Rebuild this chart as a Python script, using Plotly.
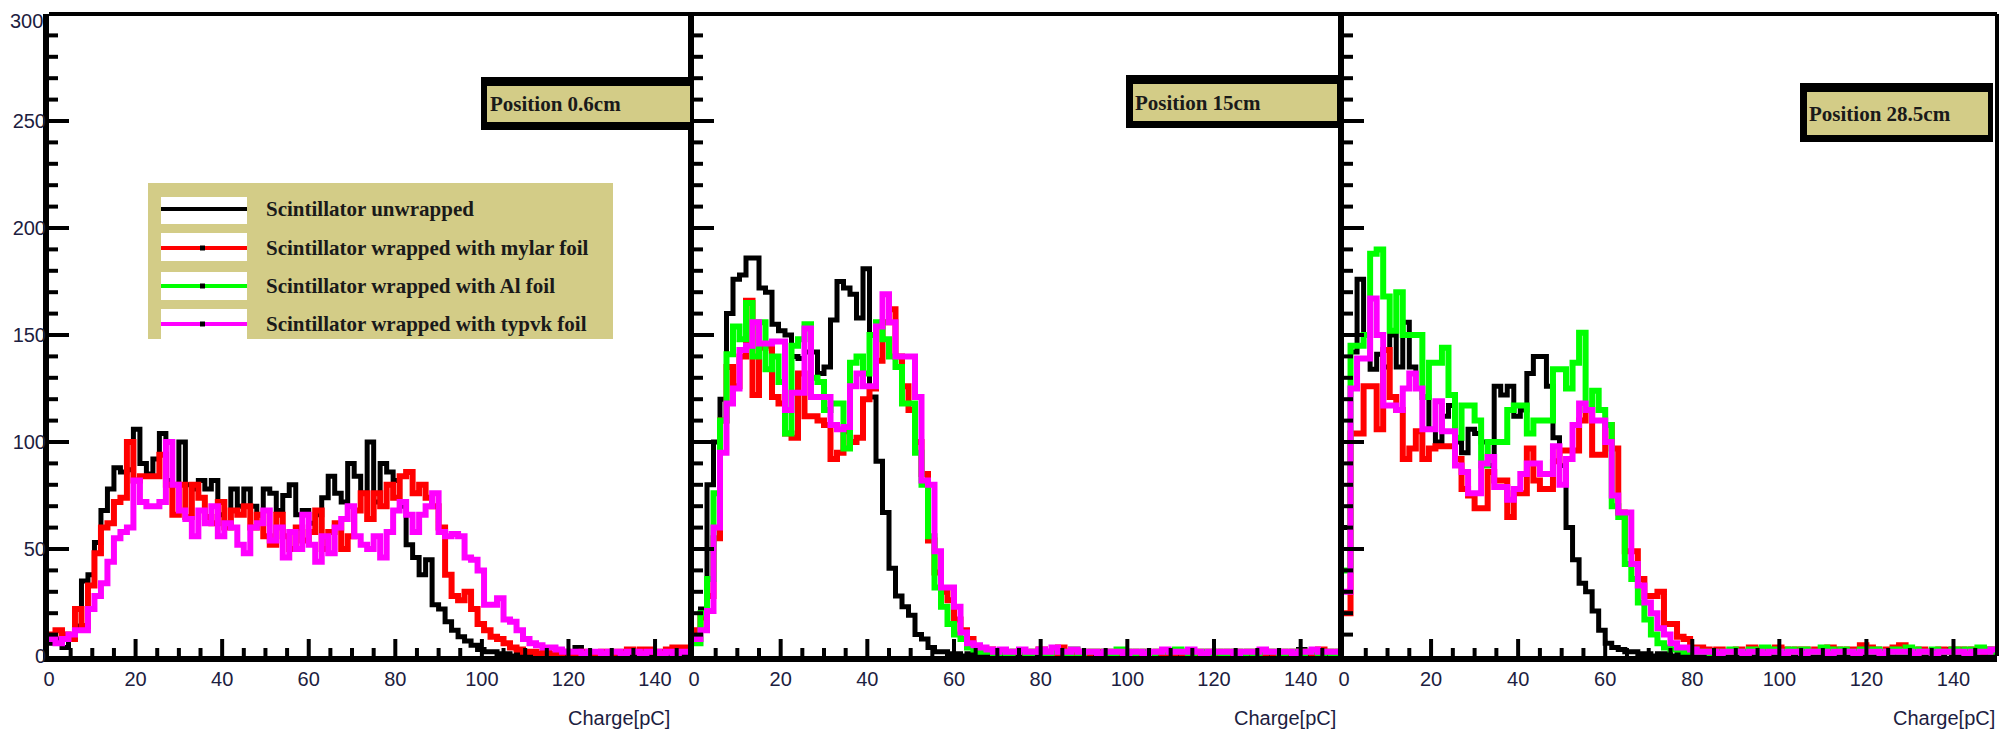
import numpy as np
import plotly.graph_objects as go

# ---------------- data (histogram bin contents, bin width 1.5 pC, 100 bins 0-150 pC) ----------------
BIN_WIDTH = 1.5
N_BINS = 100

series_names = [
    "Scintillator unwrapped",
    "Scintillator wrapped with mylar foil",
    "Scintillator wrapped with Al foil",
    "Scintillator wrapped with typvk foil",
]
series_colors = ["#000000", "#ff0000", "#00ff00", "#ff00ff"]
panel_titles = ["Position 0.6cm", "Position 15cm", "Position 28.5cm"]
x_tick_labels = [0, 20, 40, 60, 80, 100, 120, 140]
y_tick_labels = [0, 50, 100, 150, 200, 250, 300]
X_MINOR_STEP = 5
Y_MINOR_STEP = 10

# Panel 1 : position 0.6 cm
p1_unwrapped = [6, 8, 4, 8, 14, 35, 38, 53, 68, 78,
                88, 86, 87, 106, 90, 85, 92, 104, 82, 80,
                100, 80, 78, 82, 78, 82, 66, 62, 78, 70,
                78, 70, 66, 78, 76, 68, 75, 80, 66, 68,
                62, 66, 74, 84, 76, 72, 90, 84, 76, 100,
                72, 90, 86, 82, 70, 52, 46, 38, 45, 24,
                22, 16, 12, 9, 7, 5, 3, 2, 2, 1,
                1, 0, 1, 0, 1, 1, 0, 0, 1, 0,
                1, 4, 1, 0, 1, 0, 0, 1, 0, 0,
                1, 0, 0, 1, 1, 0, 1, 0, 1, 1]
p1_mylar = [10, 12, 10, 8, 22, 14, 33, 48, 60, 62,
            72, 74, 100, 82, 84, 84, 84, 94, 80, 66,
            80, 65, 80, 74, 65, 62, 72, 60, 68, 66,
            70, 60, 66, 56, 52, 66, 56, 50, 60, 54,
            58, 68, 50, 58, 62, 50, 56, 68, 76, 64,
            76, 70, 80, 74, 84, 86, 76, 80, 74, 70,
            60, 38, 28, 26, 30, 22, 15, 12, 9, 8,
            6, 4, 3, 2, 2, 1, 2, 1, 1, 2,
            1, 1, 2, 1, 1, 2, 1, 2, 2, 3,
            2, 3, 3, 2, 2, 3, 4, 4, 3, 6]
p1_typvk = [8, 6, 8, 10, 12, 12, 22, 28, 34, 44,
            55, 58, 60, 82, 72, 70, 70, 72, 100, 80,
            68, 64, 56, 68, 62, 70, 56, 62, 60, 52,
            48, 60, 62, 68, 54, 60, 46, 58, 50, 66,
            52, 44, 56, 48, 60, 64, 70, 56, 52, 50,
            56, 46, 58, 68, 72, 66, 58, 66, 70, 76,
            58, 56, 57, 56, 46, 45, 40, 24, 24, 27,
            17, 16, 12, 8, 6, 5, 4, 4, 3, 2,
            2, 2, 1, 2, 2, 1, 2, 2, 1, 2,
            2, 1, 2, 2, 1, 2, 1, 2, 2, 2]

# Panel 2 : position 15 cm
p2_unwrapped = [8, 22, 80, 100, 120, 160, 176, 178, 186, 186,
                172, 170, 155, 152, 150, 140, 139, 142, 142, 132,
                135, 157, 175, 172, 169, 158, 181, 121, 91, 67,
                41, 28, 23, 19, 10, 8, 4, 2, 2, 1,
                1, 0, 1, 0, 1, 1, 0, 1, 0, 0,
                1, 0, 0, 1, 0, 1, 0, 0, 1, 0,
                0, 1, 0, 0, 1, 0, 1, 0, 0, 1,
                0, 1, 0, 0, 1, 0, 0, 1, 0, 1,
                0, 0, 1, 0, 1, 0, 0, 1, 0, 0,
                1, 0, 1, 3, 0, 1, 0, 1, 0, 1]
p2_mylar = [12, 18, 28, 55, 110, 135, 126, 140, 166, 122,
            144, 145, 121, 118, 104, 102, 132, 112, 112, 110,
            108, 92, 95, 105, 100, 102, 120, 125, 138, 156,
            162, 140, 126, 115, 100, 85, 54, 39, 30, 26,
            17, 12, 8, 4, 3, 3, 2, 2, 1, 2,
            2, 1, 2, 3, 2, 1, 4, 2, 1, 2,
            1, 2, 2, 1, 2, 1, 1, 2, 1, 2,
            1, 2, 1, 1, 2, 1, 2, 1, 2, 2,
            1, 2, 1, 2, 1, 2, 2, 1, 2, 1,
            2, 1, 2, 2, 2, 1, 3, 2, 2, 2]
p2_al = [6, 20, 36, 76, 110, 141, 154, 148, 165, 140,
         156, 134, 140, 128, 104, 145, 148, 155, 130, 128,
         115, 118, 118, 97, 137, 140, 132, 150, 156, 148,
         140, 135, 118, 118, 95, 80, 56, 32, 23, 15,
         10, 8, 4, 3, 2, 2, 1, 2, 1, 2,
         2, 1, 2, 2, 1, 2, 2, 1, 3, 1,
         2, 2, 1, 2, 1, 3, 2, 1, 2, 2,
         1, 2, 2, 2, 3, 2, 1, 2, 2, 1,
         2, 1, 2, 2, 1, 2, 1, 2, 2, 2,
         1, 2, 2, 1, 2, 2, 1, 2, 1, 2]
p2_typvk = [8, 12, 21, 60, 95, 118, 125, 143, 145, 156,
            146, 146, 147, 147, 115, 123, 123, 153, 121, 121,
            121, 108, 106, 107, 126, 132, 126, 126, 154, 169,
            156, 140, 140, 140, 121, 82, 80, 49, 32, 32,
            23, 11, 6, 5, 4, 3, 2, 3, 2, 2,
            3, 2, 2, 3, 2, 4, 2, 2, 3, 2,
            2, 2, 1, 2, 2, 2, 1, 2, 2, 1,
            2, 2, 3, 2, 2, 2, 3, 2, 1, 2,
            2, 2, 2, 1, 2, 2, 2, 3, 2, 2,
            2, 2, 1, 2, 2, 3, 2, 2, 2, 2]

# Panel 3 : position 28.5 cm
p3_unwrapped = [60, 142, 176, 150, 134, 141, 135, 150, 135, 156,
                135, 125, 121, 106, 100, 112, 117, 100, 95, 106,
                104, 100, 89, 126, 122, 126, 112, 115, 132, 140,
                140, 126, 102, 89, 60, 45, 34, 30, 21, 12,
                6, 4, 3, 2, 2, 1, 1, 0, 1, 1,
                0, 1, 1, 0, 1, 0, 1, 1, 0, 1,
                0, 1, 0, 1, 1, 0, 1, 0, 1, 0,
                1, 1, 0, 1, 0, 1, 0, 1, 1, 0,
                1, 0, 1, 0, 1, 1, 0, 1, 0, 1,
                1, 0, 3, 1, 0, 1, 1, 0, 1, 1]
p3_mylar = [20, 104, 104, 126, 126, 106, 143, 121, 115, 92,
            97, 105, 92, 97, 98, 98, 98, 92, 78, 75,
            69, 69, 86, 82, 82, 65, 76, 76, 97, 82,
            78, 78, 91, 96, 96, 96, 110, 115, 94, 94,
            108, 97, 67, 49, 49, 36, 28, 28, 30, 15,
            15, 9, 8, 4, 4, 3, 2, 3, 2, 2,
            3, 2, 4, 3, 2, 3, 4, 3, 2, 3,
            3, 2, 3, 2, 4, 3, 2, 3, 3, 5,
            4, 3, 2, 3, 4, 5, 3, 2, 3, 2,
            2, 3, 2, 3, 3, 2, 3, 2, 3, 3]
p3_al = [40, 145, 145, 150, 188, 190, 168, 152, 170, 150,
         150, 150, 121, 137, 137, 144, 122, 102, 117, 117,
         110, 89, 100, 100, 100, 115, 117, 117, 104, 110,
         110, 110, 134, 134, 125, 137, 151, 115, 124, 115,
         108, 70, 65, 43, 36, 25, 17, 10, 6, 4,
         3, 3, 2, 3, 2, 2, 1, 2, 2, 3,
         2, 2, 3, 2, 4, 3, 2, 2, 3, 2,
         3, 2, 2, 4, 3, 2, 3, 2, 2, 3,
         2, 3, 2, 2, 3, 2, 4, 3, 2, 2,
         3, 2, 2, 3, 2, 3, 2, 4, 3, 2]
p3_typvk = [30, 125, 139, 139, 167, 150, 117, 117, 115, 125,
            132, 125, 106, 106, 119, 105, 105, 89, 86, 76,
            76, 90, 93, 79, 79, 73, 78, 85, 90, 90,
            85, 85, 98, 80, 92, 108, 118, 115, 110, 110,
            100, 75, 67, 67, 43, 33, 25, 20, 13, 10,
            6, 4, 4, 3, 2, 2, 2, 1, 2, 2,
            2, 1, 2, 2, 1, 2, 2, 1, 2, 2,
            1, 2, 2, 2, 1, 2, 2, 2, 1, 2,
            2, 2, 1, 2, 2, 2, 2, 1, 2, 2,
            1, 2, 2, 2, 2, 1, 2, 2, 2, 3]

panels = [
    {"unwrapped": p1_unwrapped, "mylar": p1_mylar, "typvk": p1_typvk},
    {"unwrapped": p2_unwrapped, "mylar": p2_mylar, "al": p2_al, "typvk": p2_typvk},
    {"unwrapped": p3_unwrapped, "mylar": p3_mylar, "al": p3_al, "typvk": p3_typvk},
]
series_keys = ["unwrapped", "mylar", "al", "typvk"]

# ---------------- layout geometry (page pixels; the page body has an 8px margin) ----------------
OFF = 8
FW, FH = 2015 - OFF, 731 - OFF
def px(x):
    return (x - OFF) / FW
def py(y):
    return 1 - (y - OFF) / FH

x_domains = [(49, 694), (694, 1344), (1344, 1997)]
x_ranges = [(0, 149), (0, 150), (0, 150)]
y_top, y_bottom = 14, 656
plot_h = y_bottom - y_top

KHAKI = "#d3cc87"
TICK_COLOR = "#1c2040"
TEXT_DARK = "#1a1a1a"
SERIF = "Liberation Serif, Times New Roman, serif"
SANS = "Liberation Sans, Arial, sans-serif"

edges = np.arange(N_BINS + 1) * BIN_WIDTH

fig = go.Figure()
for p, data in enumerate(panels):
    suffix = "" if p == 0 else str(p + 1)
    for key, name, color in zip(series_keys, series_names, series_colors):
        if key not in data:
            continue
        vals = list(data[key])
        fig.add_trace(go.Scatter(
            x=edges, y=vals + [vals[-1]],
            mode="lines", line=dict(color=color, width=5 if key == "unwrapped" else 6, shape="hv"),
            name=name, showlegend=False, hoverinfo="skip",
            xaxis="x" + suffix, yaxis="y" + suffix,
        ))

layout = dict(
    width=FW, height=FH, margin=dict(l=0, r=0, t=0, b=0, autoexpand=False),
    paper_bgcolor="white", plot_bgcolor="white", showlegend=False,
)
shapes = []
annotations = []
top_label = y_tick_labels[-1]
for p in range(3):
    suffix = "" if p == 0 else str(p + 1)
    x0, x1 = x_domains[p]
    plot_w = x1 - x0
    layout["xaxis" + suffix] = dict(
        domain=[px(x0), px(x1)], range=list(x_ranges[p]), anchor="y" + suffix,
        automargin=False, showline=True, linecolor="black", linewidth=6,
        showgrid=False, zeroline=False, ticks="",
        tickvals=x_tick_labels, ticklabeloverflow="allow",
        tickfont=dict(family=SANS, size=20, color=TICK_COLOR),
    )
    layout["yaxis" + suffix] = dict(
        domain=[py(y_bottom), py(y_top)], range=[0, top_label], anchor="x" + suffix,
        automargin=False, showline=True, linecolor="black", linewidth=6,
        showgrid=False, zeroline=False, ticks="",
        tickvals=y_tick_labels[:-1], showticklabels=(p == 0), ticklabeloverflow="allow",
        tickfont=dict(family=SANS, size=20, color=TICK_COLOR),
    )
    # tick marks (inside), major every label, minor in between
    xmax = x_ranges[p][1]
    for v in np.arange(X_MINOR_STEP, xmax, X_MINOR_STEP):
        length = 17 if v in x_tick_labels else 8
        shapes.append(dict(type="line", xref="x" + suffix, yref="y" + suffix + " domain",
                           x0=v, x1=v, y0=0, y1=length / plot_h,
                           line=dict(color="black", width=4)))
    for v in np.arange(Y_MINOR_STEP, top_label, Y_MINOR_STEP):
        length = 20 if v in y_tick_labels else 9
        shapes.append(dict(type="line", xref="x" + suffix + " domain", yref="y" + suffix,
                           x0=0, x1=length / plot_w, y0=v, y1=v,
                           line=dict(color="black", width=4)))
    # top frame
    shapes.append(dict(type="line", xref="paper", yref="paper",
                       x0=px(x0), x1=px(x1), y0=py(y_top), y1=py(y_top),
                       line=dict(color="black", width=4)))
    # axis title
    title_right = [672, 1338, 1997][p]
    annotations.append(dict(text="Charge[pC]", xref="paper", yref="paper",
                            x=px(title_right), y=py(718), xanchor="right", yanchor="middle",
                            showarrow=False, font=dict(family=SANS, size=20, color=TICK_COLOR)))

# top y label of the first panel, nudged inside the page so it is not clipped
annotations.append(dict(text=str(top_label), xref="paper", yref="paper",
                        x=px(45), y=py(21), xanchor="right", yanchor="middle",
                        showarrow=False, font=dict(family=SANS, size=20, color=TICK_COLOR)))

# right frame of last panel
shapes.append(dict(type="line", xref="paper", yref="paper",
                   x0=px(1997), x1=px(1997), y0=py(y_bottom), y1=py(y_top),
                   line=dict(color="black", width=4)))

# position boxes: (outer box, inner box, text position)
pos_boxes = [
    ((481, 77, 694, 130), (487, 86, 690, 122), (488, 104)),
    ((1126, 75, 1344, 128), (1133, 84, 1337, 121), (1133, 103)),
    ((1800, 83, 1993, 142), (1807, 92, 1988, 135), (1807, 114)),
]
for (ob, ib, tp), title in zip(pos_boxes, panel_titles):
    shapes.append(dict(type="rect", xref="paper", yref="paper",
                       x0=px(ob[0]), x1=px(ob[2]), y0=py(ob[3]), y1=py(ob[1]),
                       fillcolor="black", line=dict(width=0)))
    shapes.append(dict(type="rect", xref="paper", yref="paper",
                       x0=px(ib[0]), x1=px(ib[2]), y0=py(ib[3]), y1=py(ib[1]),
                       fillcolor=KHAKI, line=dict(width=0)))
    annotations.append(dict(text="<b>%s</b>" % title, xref="paper", yref="paper",
                            x=px(tp[0]), y=py(tp[1]), xanchor="left", yanchor="middle",
                            showarrow=False, font=dict(family=SERIF, size=21, color=TEXT_DARK)))

# legend box (panel 1)
shapes.append(dict(type="rect", xref="paper", yref="paper",
                   x0=px(148), x1=px(613), y0=py(339), y1=py(183),
                   fillcolor=KHAKI, line=dict(width=0)))
legend_rows = [(197, 224, 209), (233, 261, 248), (272, 300, 286), (309, 339, 324)]
for i, ((r0, r1, ly), name, color) in enumerate(zip(legend_rows, series_names, series_colors)):
    shapes.append(dict(type="rect", xref="paper", yref="paper",
                       x0=px(161), x1=px(247), y0=py(r1), y1=py(r0),
                       fillcolor="white", line=dict(width=0)))
    shapes.append(dict(type="line", xref="paper", yref="paper",
                       x0=px(161), x1=px(247), y0=py(ly), y1=py(ly),
                       line=dict(color=color, width=4)))
    if i > 0:
        shapes.append(dict(type="rect", xref="paper", yref="paper",
                           x0=px(200), x1=px(205), y0=py(ly + 2.5), y1=py(ly - 2.5),
                           fillcolor="black", line=dict(width=0)))
    annotations.append(dict(text="<b>%s</b>" % name, xref="paper", yref="paper",
                            x=px(264), y=py(ly), xanchor="left", yanchor="middle",
                            showarrow=False, font=dict(family=SERIF, size=21, color=TEXT_DARK)))

layout["shapes"] = shapes
layout["annotations"] = annotations
fig.update_layout(**layout)
try:
    fig.update_yaxes(ticklabelstandoff=-7)
except ValueError:
    pass
fig.write_html("out.html")
